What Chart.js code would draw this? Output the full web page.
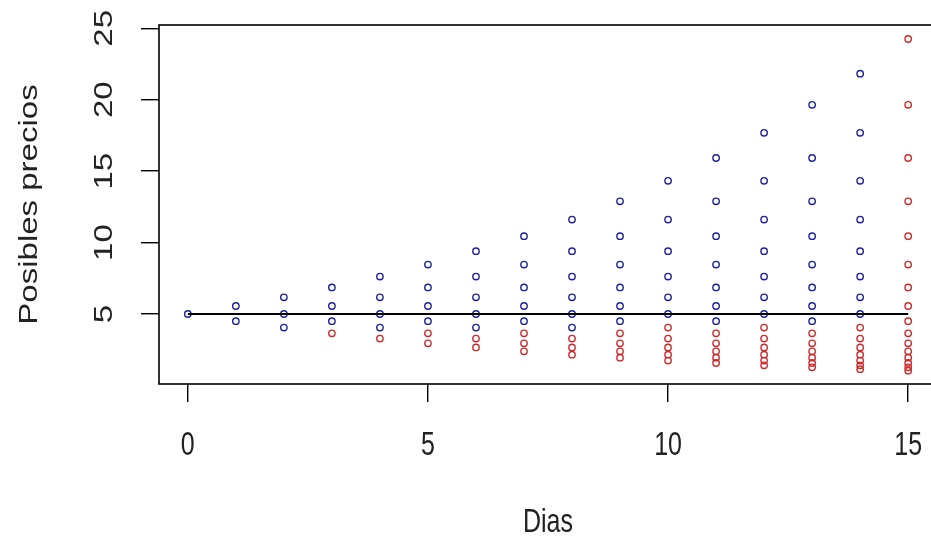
<!DOCTYPE html>
<html>
<head>
<meta charset="utf-8">
<style>
  html, body { margin: 0; padding: 0; background: #fff; overflow: hidden; }
  #wrap { width: 931px; height: 542px; overflow: hidden; }
  canvas { display: block; }
</style>
<script src="https://cdn.jsdelivr.net/npm/chart.js@4/dist/chart.umd.min.js"></script>
</head>
<body>
<div id="wrap"><canvas id="c" width="960" height="542"></canvas></div>
<script>
// Days of the binomial price tree
const dias = [0, 1, 2, 3, 4, 5, 6, 7, 8, 9, 10, 11, 12, 13, 14, 15];

// Nodes kept (blue) on each day
const preciosAzul = [
  [5],
  [5.56, 4.5],
  [6.17, 5, 4.05],
  [6.86, 5.56, 4.5],
  [7.62, 6.17, 5, 4.05],
  [8.46, 6.86, 5.56, 4.5],
  [9.40, 7.62, 6.17, 5, 4.05],
  [10.45, 8.46, 6.86, 5.56, 4.5],
  [11.61, 9.40, 7.62, 6.17, 5, 4.05],
  [12.89, 10.45, 8.46, 6.86, 5.56, 4.5],
  [14.32, 11.61, 9.40, 7.62, 6.17, 5],
  [15.92, 12.89, 10.45, 8.46, 6.86, 5.56, 4.5],
  [17.68, 14.32, 11.61, 9.40, 7.62, 6.17, 5],
  [19.64, 15.92, 12.89, 10.45, 8.46, 6.86, 5.56, 4.5],
  [21.82, 17.68, 14.32, 11.61, 9.40, 7.62, 6.17, 5],
  []
];

// Nodes marked red on each day
const preciosRojo = [
  [],
  [],
  [],
  [3.65],
  [3.28],
  [3.65, 2.95],
  [3.28, 2.66],
  [3.65, 2.95, 2.39],
  [3.28, 2.66, 2.15],
  [3.65, 2.95, 2.39, 1.94],
  [4.05, 3.28, 2.66, 2.15, 1.74],
  [3.65, 2.95, 2.39, 1.94, 1.57],
  [4.05, 3.28, 2.66, 2.15, 1.74, 1.41],
  [3.65, 2.95, 2.39, 1.94, 1.57, 1.27],
  [4.05, 3.28, 2.66, 2.15, 1.74, 1.41, 1.14],
  [24.25, 19.64, 15.92, 12.89, 10.45, 8.46, 6.86, 5.56, 4.5, 3.65, 2.95, 2.39, 1.94, 1.57, 1.27, 1.03]
];

// Reference level drawn across the tree
const precioInicial = 5;

const ticksX = [0, 5, 10, 15];
const ticksY = [5, 10, 15, 20, 25];

function puntos(lista) {
  const out = [];
  lista.forEach((col, i) => col.forEach(p => out.push({ x: dias[i], y: p })));
  return out;
}

const FONT = '25px "Liberation Sans", Arial, sans-serif';
const STRETCH = 1.32;
const TEXT = '#222';

// Box, tick labels and axis titles (vertically stretched text)
const rotulos = {
  id: 'rotulos',
  afterDraw(chart) {
    const ctx = chart.ctx;
    const a = chart.chartArea;
    const sx = chart.scales.x, sy = chart.scales.y;
    ctx.save();
    ctx.strokeStyle = '#000';
    ctx.lineWidth = 1.6;
    ctx.strokeRect(a.left, a.top, a.right - a.left, a.bottom - a.top);
    ctx.fillStyle = TEXT;
    ctx.font = FONT;
    ctx.textAlign = 'center';
    ctx.textBaseline = 'alphabetic';
    ticksX.forEach(v => {
      ctx.save();
      ctx.translate(sx.getPixelForValue(v), 455);
      ctx.scale(1, STRETCH);
      ctx.fillText(String(v), 0, 0);
      ctx.restore();
    });
    ticksY.forEach(v => {
      ctx.save();
      ctx.translate(112, sy.getPixelForValue(v));
      ctx.rotate(-Math.PI / 2);
      ctx.scale(STRETCH, 1);
      ctx.fillText(String(v), 0, 0);
      ctx.restore();
    });
    ctx.save();
    ctx.translate(sx.getPixelForValue(7.5), 532);
    ctx.scale(1, STRETCH);
    ctx.fillText('Dias', 0, 0);
    ctx.restore();
    ctx.save();
    ctx.translate(37, (a.top + a.bottom) / 2);
    ctx.rotate(-Math.PI / 2);
    ctx.scale(STRETCH, 1);
    ctx.fillText('Posibles precios', 0, 0);
    ctx.restore();
    ctx.restore();
  }
};

const punto = {
  pointStyle: 'circle',
  pointRadius: 3.2,
  pointBorderWidth: 1.4,
  pointBackgroundColor: 'rgba(0,0,0,0)',
  pointHoverRadius: 3.2,
  showLine: false
};

new Chart(document.getElementById('c'), {
  type: 'scatter',
  data: {
    datasets: [
      {
        label: 'nivel',
        data: [{ x: dias[0], y: precioInicial }, { x: dias[dias.length - 1], y: precioInicial }],
        showLine: true,
        borderColor: '#000',
        borderWidth: 1.8,
        pointRadius: 0,
        order: 0
      },
      Object.assign({ label: 'azul', data: puntos(preciosAzul), pointBorderColor: '#1f1f9e', order: 1 }, punto),
      Object.assign({ label: 'rojo', data: puntos(preciosRojo), pointBorderColor: '#cc2b2b', order: 2 }, punto)
    ]
  },
  options: {
    responsive: false,
    animation: false,
    devicePixelRatio: 1,
    layout: { padding: { top: 25, right: 23, left: 0, bottom: 0 } },
    plugins: { legend: { display: false }, tooltip: { enabled: false } },
    scales: {
      x: {
        type: 'linear',
        min: -0.6,
        max: 15.6,
        afterBuildTicks: s => { s.ticks = ticksX.map(v => ({ value: v })); },
        afterFit: s => { s.height = 158; },
        ticks: { display: false },
        grid: { display: true, drawOnChartArea: false, drawTicks: true, tickLength: 18, color: '#000', lineWidth: 1.4 },
        border: { display: false }
      },
      y: {
        type: 'linear',
        min: 0.1,
        max: 25.23,
        afterBuildTicks: s => { s.ticks = ticksY.map(v => ({ value: v })); },
        afterFit: s => { s.width = 159; },
        ticks: { display: false },
        grid: { display: true, drawOnChartArea: false, drawTicks: true, tickLength: 18, color: '#000', lineWidth: 1.4 },
        border: { display: false }
      }
    }
  },
  plugins: [rotulos]
});
</script>
</body>
</html>
